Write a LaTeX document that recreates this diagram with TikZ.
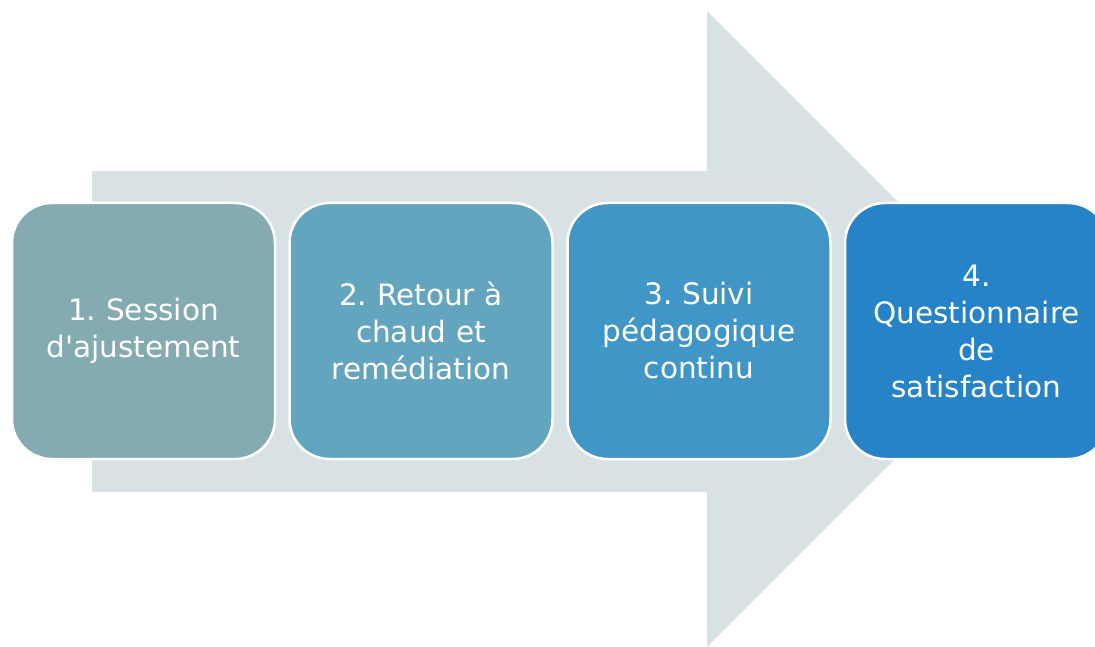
\documentclass[tikz,border=0pt]{standalone}
\usepackage{fontspec}
\setmainfont{DejaVu Sans}[Ligatures=TeXOff]
\definecolor{arrowc}{HTML}{D8E2E5}
\definecolor{c1}{HTML}{84AAB2}
\definecolor{c2}{HTML}{63A4BE}
\definecolor{c3}{HTML}{4097C7}
\definecolor{c4}{HTML}{2783C7}
\begin{document}
\frenchspacing
\begin{tikzpicture}[x=1pt,y=-1pt,
  stepbox/.style={draw=white, line width=2.5pt, rounded corners=40pt,
    minimum width=263pt, minimum height=256pt, text width=255pt, align=center,
    text=white, font=\fontsize{29.5}{37}\selectfont, inner sep=0pt}]
\useasboundingbox (0,0) rectangle (1095,647);
\clip (0,0) rectangle (1095,647);
\fill[arrowc] (92,171) -- (707,171) -- (707,11) -- (1025,329) -- (707,647) -- (707,492) -- (92,492) -- cycle;
\node[stepbox, fill=c1] (b1) at (143.5,331) {1. Session\\d'ajustement};
\node[stepbox, fill=c2] (b2) at (421,331) {2. Retour à\\chaud et\\remédiation};
\node[stepbox, fill=c3] (b3) at (699,331) {3. Suivi\\pédagogique\\continu};
\node[stepbox, fill=c4] (b4) at (976.5,331) {4.\\Questionnaire\\de\\satisfaction};
\end{tikzpicture}
\end{document}
